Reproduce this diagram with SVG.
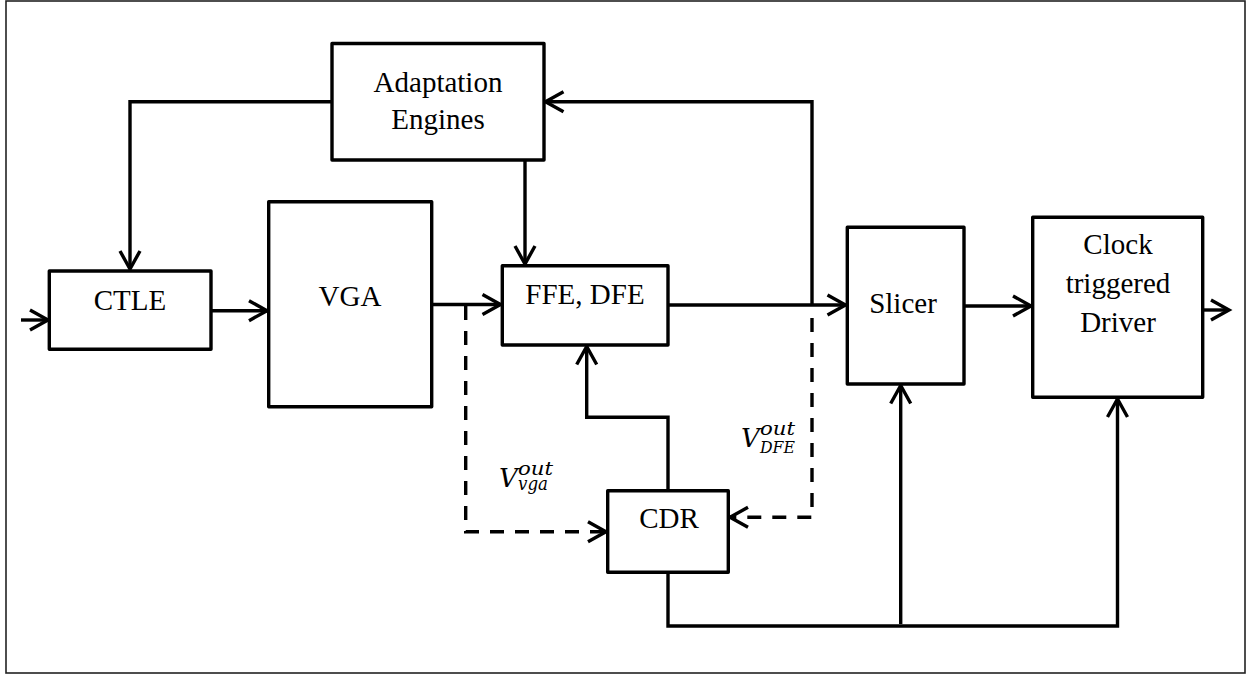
<svg xmlns="http://www.w3.org/2000/svg" width="1250" height="675" viewBox="0 0 1250 675">
<style>
.box{fill:#fff;stroke:#000;stroke-width:3.4;stroke-linejoin:round}
.lbl{font-family:"Liberation Serif","Times New Roman",serif;font-size:29px;fill:#000;text-anchor:middle}
.ln{fill:none;stroke:#000;stroke-width:3.4;stroke-linejoin:miter}
.dash{stroke-dasharray:14 11}
.math{font-family:"DejaVu Serif",serif;font-style:italic;fill:#000}
</style>
<defs>
<marker id="ah" markerUnits="userSpaceOnUse" orient="auto" refX="0" refY="0" markerWidth="40" markerHeight="40" overflow="visible">
<path d="M-18,-10 L0,0 L-18,10" fill="none" stroke="#000" stroke-width="3.4" stroke-dasharray="none" stroke-linejoin="miter"/>
</marker>
</defs>
<rect x="6" y="1" width="1239" height="672" fill="#fff" stroke="#222" stroke-width="1.6"/>

<g id="connectors">
<path class="ln" d="M21,320 H48" marker-end="url(#ah)"/>
<path class="ln" d="M211,310.7 H267" marker-end="url(#ah)"/>
<path class="ln" d="M332,101.7 H130 V269" marker-end="url(#ah)"/>
<path class="ln" d="M525,160 V264" marker-end="url(#ah)"/>
<path class="ln" d="M431.7,304.5 H500.5" marker-end="url(#ah)"/>
<path class="ln" d="M668,305 H845.5" marker-end="url(#ah)"/>
<path class="ln" d="M812,305 V101.7 H545.5" marker-end="url(#ah)"/>
<path class="ln" d="M964,306 H1031" marker-end="url(#ah)"/>
<path class="ln" d="M1202.7,310 H1229" marker-end="url(#ah)"/>
<path class="ln" d="M668,490.7 V417.3 H586.7 V346.5" marker-end="url(#ah)"/>
<path class="ln" d="M668,572.3 V626 H1117.5 V399" marker-end="url(#ah)"/>
<path class="ln" d="M900.7,624 V385.5" marker-end="url(#ah)"/>
<path class="ln dash" d="M465.7,306 V531.7 H606" marker-end="url(#ah)"/>
<path class="ln dash" d="M812,318 V517.3 H730" marker-end="url(#ah)"/>
</g>

<g id="adaptation">
<rect class="box" x="332" y="43.5" width="212" height="116.5"/>
<text class="lbl" x="438" y="91.7">Adaptation</text>
<text class="lbl" x="438" y="129.3">Engines</text>
</g>
<g id="ctle">
<rect class="box" x="49.3" y="271" width="161.7" height="78.3"/>
<text class="lbl" x="130" y="310">CTLE</text>
</g>
<g id="vga">
<rect class="box" x="268.7" y="201.7" width="163" height="205"/>
<text class="lbl" x="350" y="306">VGA</text>
</g>
<g id="ffe-dfe">
<rect class="box" x="502.3" y="265.7" width="165.7" height="79.3"/>
<text class="lbl" x="585" y="304">FFE, DFE</text>
</g>
<g id="slicer">
<rect class="box" x="847.3" y="227.3" width="116.7" height="156.7"/>
<text class="lbl" x="903" y="313.3">Slicer</text>
</g>
<g id="driver">
<rect class="box" x="1032.7" y="217.3" width="170" height="180"/>
<text class="lbl" x="1118" y="254">Clock</text>
<text class="lbl" x="1118" y="293">triggered</text>
<text class="lbl" x="1118" y="331.7">Driver</text>
</g>
<g id="cdr">
<rect class="box" x="607.7" y="490.7" width="120.6" height="81.6"/>
<text class="lbl" x="669" y="528.3">CDR</text>
</g>
<g id="label-vga">
<text class="math" x="499" y="487" font-size="26">V<tspan x="518" y="475" font-size="19" textLength="35" lengthAdjust="spacingAndGlyphs">out</tspan><tspan x="518" y="490" font-size="19" textLength="30" lengthAdjust="spacingAndGlyphs">vga</tspan></text>
</g>
<g id="label-dfe">
<text class="math" x="741" y="446.5" font-size="26">V<tspan x="760" y="435" font-size="19" textLength="35" lengthAdjust="spacingAndGlyphs">out</tspan><tspan x="760" y="453" font-size="17" textLength="35" lengthAdjust="spacingAndGlyphs">DFE</tspan></text>
</g>
</svg>
